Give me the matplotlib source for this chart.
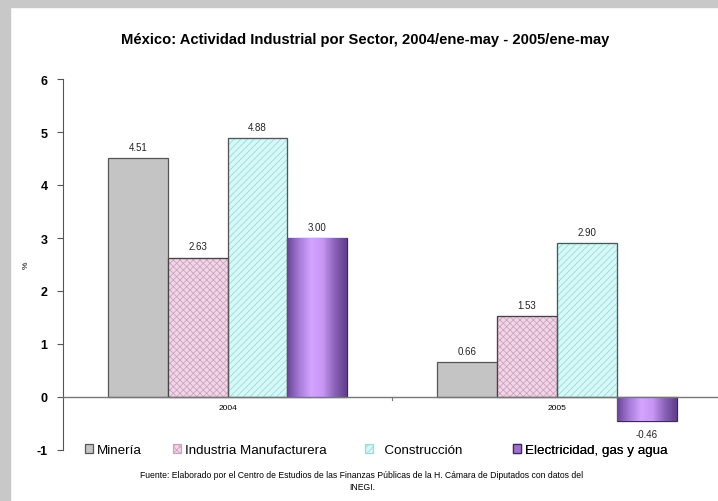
import matplotlib.pyplot as plt
import numpy as np
from matplotlib.colors import LinearSegmentedColormap
from matplotlib.patches import Rectangle

plt.rcParams['font.family'] = ['Liberation Sans', 'DejaVu Sans']
plt.rcParams['hatch.linewidth'] = 0.6
plt.rcParams['axes.unicode_minus'] = False

years = ['2004', '2005']
sectors = ['Minería', 'Industria Manufacturera', '  Construcción', 'Electricidad, gas y agua']
mineria = [4.51, 0.66]
manufactura = [2.63, 1.53]
construccion = [4.88, 2.90]
electricidad = [3.00, -0.46]
series = [mineria, manufactura, construccion, electricidad]

fig = plt.figure(figsize=(7.18, 5.02), dpi=100)
fig.patch.set_facecolor('white')
# gray frame at left and top
fig.add_artist(Rectangle((0, 0), 10 / 718, 1, transform=fig.transFigure, color='#c8c8c8', zorder=-5))
fig.add_artist(Rectangle((0, 1 - 8 / 502), 1, 8 / 502, transform=fig.transFigure, color='#c8c8c8', zorder=-5))

ax = fig.add_axes([63 / 718, 1 - 451 / 502, (718 - 63) / 718, (451 - 80) / 502])

w = 0.182
x = np.arange(len(years))
styles = [
    dict(color='#c4c4c4', edgecolor='#555555', hatch=None),
    dict(color='#f0d6e6', edgecolor='#444444', hatch='xxxxx'),
    dict(color='#d8f7f7', edgecolor='#555555', hatch='/////'),
    dict(color='#a070d0', edgecolor='#3c2a50', hatch=None),
]
hatch_cols = [None, '#cfa2c0', '#96dcdc', None]
grad = LinearSegmentedColormap.from_list('g', ['#6a4696', '#a57ad8', '#d4a4ff', '#c896f4', '#8a62b8', '#60408a'])

handles = []
for i, vals in enumerate(series):
    xs = x + (i - 1.5) * w
    st = styles[i]
    bars = ax.bar(xs, vals, w, color=st['color'], edgecolor=st['edgecolor'], linewidth=0.9,
                  hatch=st['hatch'], label=sectors[i], zorder=2)
    handles.append(bars)
    if hatch_cols[i]:
        for b in bars:
            b.set_edgecolor(hatch_cols[i])
            ax.bar(b.get_x() + w / 2, b.get_height(), w, fill=False, edgecolor=st['edgecolor'],
                   linewidth=0.9, zorder=3)
    if i == 3:
        for b in bars:
            x0, y0 = b.get_x(), b.get_y()
            h = b.get_height()
            im = ax.imshow(np.linspace(0, 1, 100).reshape(1, -1), cmap=grad, aspect='auto',
                           extent=[x0, x0 + w, min(y0, y0 + h), max(y0, y0 + h)], zorder=2.5)
            im.set_clip_path(b)
    for xi, v in zip(xs, vals):
        off = 0.12 if v >= 0 else -0.14
        ax.text(xi, v + off, f'{v:.2f}', ha='center', va='bottom' if v >= 0 else 'top',
                fontsize=7, color='#222222')

ax.set_xlim(-0.5, 1.49)
ax.set_ylim(-1, 6)

for s in ['top', 'right', 'bottom']:
    ax.spines[s].set_visible(False)
ax.spines['left'].set_color('#555555')
ax.axhline(0, color='#777777', lw=1, zorder=4)
ax.set_yticks(range(-1, 7))
ax.tick_params(axis='y', length=4, color='#555555', labelsize=9, pad=7)
for t in ax.get_yticklabels():
    t.set_fontweight('bold')
ax.set_xticks([])
ax.plot([0.5, 0.5], [0, -0.05], color='#777777', lw=0.8)
for xi, yr in zip(x, years):
    ax.text(xi, -0.2, yr, ha='center', va='center', fontsize=6)
ax.set_ylabel('%', fontsize=6)
ax.yaxis.set_label_coords(-0.05, 0.5)

# one legend per entry, placed like the spreadsheet legend slots
leg_x = [85, 173, 365, 513]
for hnd, lab, px in zip(handles, sectors, leg_x):
    lg = ax.legend([hnd], [lab], loc='center left', bbox_to_anchor=((px - 63) / 655, 0.0),
                   frameon=False, fontsize=9.6, handlelength=0.6, handleheight=0.6,
                   handletextpad=0.3, borderpad=0, borderaxespad=0)
    ax.add_artist(lg)

fig.text(365 / 718, 1 - 40 / 502, 'México: Actividad Industrial por Sector, 2004/ene-may - 2005/ene-may',
         ha='center', va='center', fontsize=10.6, fontweight='bold')
fig.text(362 / 718, 1 - 475 / 502,
         'Fuente: Elaborado por el Centro de Estudios de las Finanzas Públicas de la H. Cámara de Diputados con datos del',
         ha='center', va='center', fontsize=6.2)
fig.text(362 / 718, 1 - 488 / 502, 'INEGI.', ha='center', va='center', fontsize=6.2)

fig.savefig('out.png', dpi=100)
